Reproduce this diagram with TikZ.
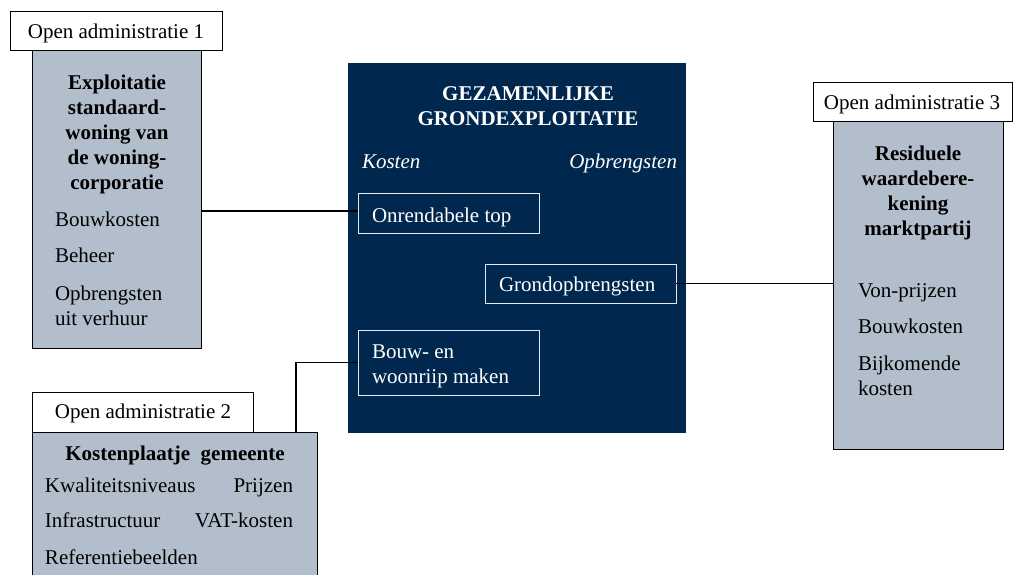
\documentclass[tikz,border=0pt]{standalone}
\usepackage{fontspec}
\setmainfont{Liberation Serif}
\definecolor{navy}{HTML}{00284F}
\definecolor{greyfill}{HTML}{B3BECC}
\definecolor{boxline}{HTML}{E6EAF0}
\begin{document}
\begin{tikzpicture}[x=1pt,y=-1pt,
  every node/.style={font=\fontsize{21}{25}\selectfont, inner sep=0pt, outer sep=0pt},
  tx/.style={yshift=-4pt},
  labelbox/.style={draw=black, line width=1pt, fill=white},
  greybox/.style={draw=black, line width=1pt, fill=greyfill},
  darkbox/.style={fill=navy},
  innerbox/.style={draw=boxline, line width=1pt},
  btxt/.style={tx, font=\fontsize{21}{25}\selectfont\bfseries, align=center, anchor=mid},
  rtxt/.style={tx, anchor=mid west},
  ltxt/.style={tx, anchor=mid},
  etxt/.style={tx, anchor=mid east},
  wtxt/.style={text=white},
  conn/.style={draw=black, line width=1.2pt}]
\useasboundingbox (0,0) rectangle (1013,575);

% ---- box 1
\node[greybox, minimum width=169pt, minimum height=297pt, anchor=north west] (g1) at (32,51) {};
\node[labelbox, minimum width=212pt, minimum height=39pt, anchor=north west] (l1) at (10,12) {};
\node[ltxt] (l1t) at (116,32) {Open administratie 1};
\node[btxt] (b1a) at (117,83) {Exploitatie};
\node[btxt] (b1b) at (117,108) {standaard-};
\node[btxt] (b1c) at (117,133) {woning van};
\node[btxt] (b1d) at (117,158) {de woning-};
\node[btxt] (b1e) at (117,183) {corporatie};
\node[rtxt] (r1a) at (55,220) {Bouwkosten};
\node[rtxt] (r1b) at (55,256) {Beheer};
\node[rtxt] (r1c) at (55,294) {Opbrengsten};
\node[rtxt] (r1d) at (55,319) {uit verhuur};

% ---- central box
\node[darkbox, minimum width=338pt, minimum height=370pt, anchor=north west] (c) at (348,63) {};
\node[btxt, wtxt] (t1) at (528,94) {GEZAMENLIJKE};
\node[btxt, wtxt] (t2) at (528,119) {GRONDEXPLOITATIE};
\node[wtxt, rtxt, font=\fontsize{21}{25}\selectfont\itshape] (kos) at (362,162) {Kosten};
\node[wtxt, etxt, font=\fontsize{21}{25}\selectfont\itshape] (opb) at (677,162) {Opbrengsten};
\node[innerbox, minimum width=181pt, minimum height=40pt, anchor=north west] (onr) at (358,194) {};
\node[wtxt, rtxt] (onrt) at (372,216) {Onrendabele top};
\node[innerbox, minimum width=191pt, minimum height=39pt, anchor=north west] (gro) at (485,264) {};
\node[wtxt, rtxt] (grot) at (499,285) {Grondopbrengsten};
\node[innerbox, minimum width=181pt, minimum height=65pt, anchor=north west] (bouw) at (358,330) {};
\node[wtxt, rtxt] (bouwa) at (372,352) {Bouw- en};
\node[wtxt, rtxt] (bouwb) at (372,377) {woonriip maken};

% ---- box 2
\node[greybox, minimum width=285pt, minimum height=170pt, anchor=north west] (g2) at (32,432) {};
\node[labelbox, minimum width=221pt, minimum height=40pt, anchor=north west] (l2) at (32,392) {};
\node[ltxt] (l2t) at (143,412) {Open administratie 2};
\node[btxt] (b2) at (175,454) {Kostenplaatje\ \ gemeente};
\node[rtxt] (r2a) at (45,486) {Kwaliteitsniveaus};
\node[etxt] (r2b) at (293,486) {Prijzen};
\node[rtxt] (r2c) at (45,521) {Infrastructuur};
\node[etxt] (r2d) at (293,521) {VAT-kosten};
\node[rtxt] (r2e) at (45,558) {Referentiebeelden};

% ---- box 3
\node[greybox, minimum width=170pt, minimum height=327pt, anchor=north west] (g3) at (833,122) {};
\node[labelbox, minimum width=199pt, minimum height=39pt, anchor=north west] (l3) at (813,83) {};
\node[ltxt] (l3t) at (912,103) {Open administratie 3};
\node[btxt] (b3a) at (918,154) {Residuele};
\node[btxt] (b3b) at (918,179) {waardebere-};
\node[btxt] (b3c) at (918,204) {kening};
\node[btxt] (b3d) at (918,229) {marktpartij};
\node[rtxt] (r3a) at (858,291) {Von-prijzen};
\node[rtxt] (r3b) at (858,327) {Bouwkosten};
\node[rtxt] (r3c) at (858,364) {Bijkomende};
\node[rtxt] (r3d) at (858,389) {kosten};

% ---- connectors
\draw[conn] ([yshift=3pt]onr.west) -- ([yshift=3pt]onr.west -| g1.east);
\draw[conn] (gro.east) -- (gro.east -| g3.west);
\draw[conn] (bouw.west) -| ([xshift=-21pt]g2.north east);
\end{tikzpicture}
\end{document}
